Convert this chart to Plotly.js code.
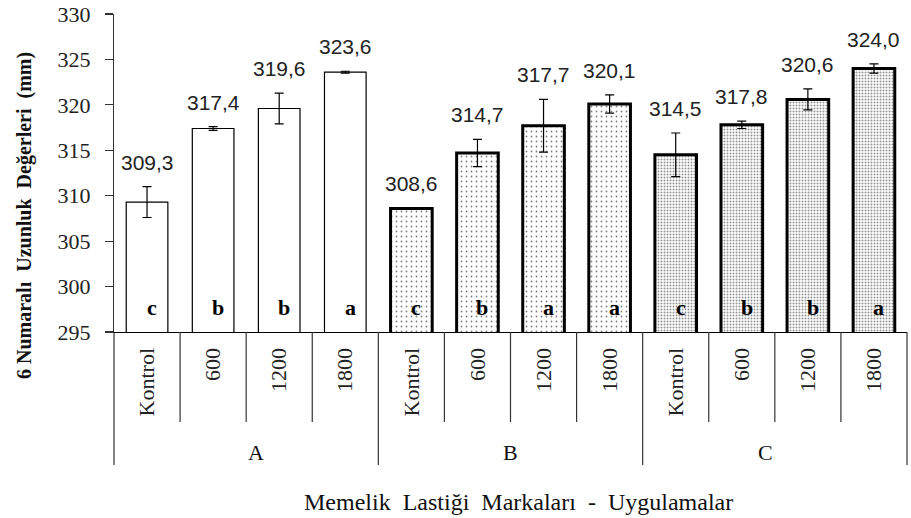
<!DOCTYPE html>
<html>
<head>
<meta charset="utf-8">
<script src="https://cdn.plot.ly/plotly-3.0.1.min.js"></script>
<style>html,body{margin:0;padding:0;background:#fff;}#chart{width:911px;height:518px;}</style>
</head>
<body>
<div id="chart"></div>
<script>
// ---- data ----
const groups = ['A', 'B', 'C'];
const treatments = ['Kontrol', '600', '1200', '1800'];
const valuesA = [309.3, 317.4, 319.6, 323.6];
const valuesB = [308.6, 314.7, 317.7, 320.1];
const valuesC = [314.5, 317.8, 320.6, 324.0];
const errorsA = [1.7, 0.2, 1.7, 0.1];
const errorsB = [0.0, 1.5, 2.9, 1.0];
const errorsC = [2.4, 0.4, 1.15, 0.5];
const lettersA = ['c', 'b', 'b', 'a'];
const lettersB = ['c', 'b', 'a', 'a'];
const lettersC = ['c', 'b', 'b', 'a'];
const yTicks = [295, 300, 305, 310, 315, 320, 325, 330];
const yTitle = '6 Numaralı  Uzunluk  Değerleri  (mm)';
const xTitle = 'Memelik  Lastiği  Markaları  -  Uygulamalar';

// ---- build ----
const values = [valuesA, valuesB, valuesC];
const errors = [errorsA, errorsB, errorsC];
const letters = [lettersA, lettersB, lettersC];
const keys = [];
const tickText = [];
groups.forEach(g => treatments.forEach(t => { keys.push(g + '|' + t); tickText.push(t); }));
const nCat = keys.length;

const serif = 'Liberation Serif, Times New Roman, serif';
const sans = 'Liberation Sans, Arial, sans-serif';

const styles = [
  {line: 1.2, pattern: {shape: '', bgcolor: '#ffffff'}, color: '#ffffff'},
  {line: 3, pattern: {shape: '.', size: 5, solidity: 0.1, fgcolor: '#000000', bgcolor: '#ffffff', fillmode: 'overlay'}, color: '#ffffff'},
  {line: 3, pattern: {shape: '.', size: 3, solidity: 0.35, fgcolor: '#2a2a2a', bgcolor: '#ffffff', fillmode: 'overlay'}, color: '#ffffff'}
];

const traces = groups.map((g, gi) => ({
  type: 'bar',
  name: g,
  x: treatments.map(t => g + '|' + t),
  y: values[gi],
  marker: {
    color: styles[gi].color,
    line: {color: '#000000', width: styles[gi].line},
    pattern: styles[gi].pattern
  },
  error_y: {type: 'data', array: errors[gi], visible: true, color: '#000000', thickness: 1.2, width: 4.5},
  hoverinfo: 'x+y',
  showlegend: false
}));

const annotations = [];
groups.forEach((g, gi) => {
  treatments.forEach((t, ti) => {
    const v = values[gi][ti];
    annotations.push({
      x: g + '|' + t, y: v + errors[gi][ti], xref: 'x', yref: 'y',
      text: v.toFixed(1).replace('.', ','), showarrow: false,
      yanchor: 'bottom', yshift: 11,
      font: {family: sans, size: 21, color: '#222222'}
    });
    annotations.push({
      x: g + '|' + t, y: 297.7, xref: 'x', yref: 'y',
      text: '<b>' + letters[gi][ti] + '</b>', showarrow: false,
      xshift: 5, yanchor: 'middle',
      font: {family: serif, size: 22, color: '#000000'}
    });
  });
  annotations.push({
    x: (gi * treatments.length + treatments.length / 2) / nCat, y: 0, xref: 'paper', yref: 'paper',
    text: g, showarrow: false, yshift: -120, yanchor: 'middle',
    font: {family: serif, size: 22, color: '#111111'}
  });
});
annotations.push({
  x: 0.5, y: 0, xref: 'paper', yref: 'paper', text: xTitle, showarrow: false,
  xshift: 8, yshift: -170, yanchor: 'middle',
  font: {family: serif, size: 24, color: '#111111'}
});
annotations.push({
  x: 0, y: 0.5, xref: 'paper', yref: 'paper', text: '<b>' + yTitle + '</b>', showarrow: false,
  textangle: -90, xshift: -90, yshift: -43, xanchor: 'center', yanchor: 'middle',
  font: {family: serif, size: 20, color: '#111111'}
});

const shapes = [];
for (let i = 0; i <= nCat; i++) {
  const outer = (i % treatments.length === 0);
  shapes.push({
    type: 'line', xref: 'paper', yref: 'paper', ysizemode: 'pixel', yanchor: 0,
    x0: i / nCat, x1: i / nCat, y0: 0, y1: outer ? -133 : -90,
    line: {color: '#333333', width: 1.2}
  });
}

const layout = {
  width: 911, height: 518,
  margin: {l: 114, r: 4, t: 14, b: 186},
  paper_bgcolor: '#ffffff', plot_bgcolor: '#ffffff',
  barmode: 'overlay', bargap: 0.37,
  xaxis: {
    type: 'category', tickvals: keys, ticktext: tickText, tickangle: -90,
    ticks: '', showline: true, linecolor: '#000000', linewidth: 1.2,
    showgrid: false, zeroline: false, ticklabelstandoff: 6,
    tickfont: {family: serif, size: 22, color: '#222222'}
  },
  yaxis: {
    range: [yTicks[0], yTicks[yTicks.length - 1]], tickvals: yTicks,
    ticks: 'outside', ticklen: 8, tickcolor: '#333333', tickwidth: 1.2,
    showline: true, linecolor: '#333333', linewidth: 1.2,
    showgrid: false, zeroline: false, ticklabelstandoff: 10,
    tickfont: {family: serif, size: 22, color: '#222222'}
  },
  annotations: annotations,
  shapes: shapes
};

Plotly.newPlot('chart', traces, layout, {displayModeBar: false, staticPlot: true});
</script>
</body>
</html>
